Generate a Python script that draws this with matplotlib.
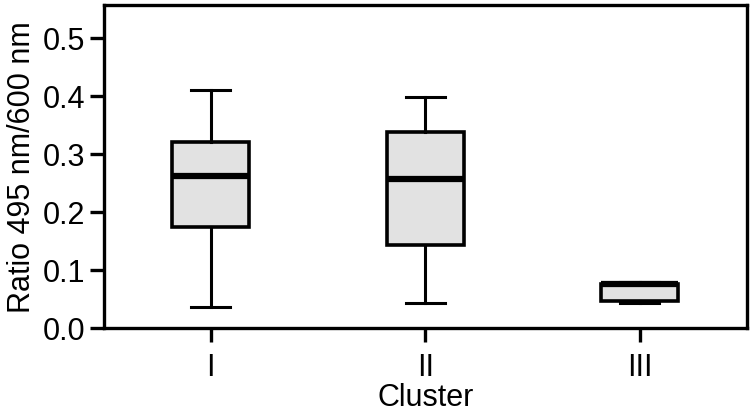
import matplotlib.pyplot as plt

plt.rcParams['font.family'] = ['Liberation Sans', 'DejaVu Sans']

# box statistics
clusters = ['I', 'II', 'III']
whisker_low = [0.036, 0.043, 0.043]
q1 = [0.174, 0.143, 0.047]
median = [0.262, 0.257, 0.077]
q3 = [0.321, 0.338, 0.077]
whisker_high = [0.410, 0.398, 0.080]

stats = []
for name, wl, a, m, b, wh in zip(clusters, whisker_low, q1, median, q3, whisker_high):
    stats.append({'label': name, 'whislo': wl, 'q1': a, 'med': m, 'q3': b,
                  'whishi': wh, 'fliers': []})

fig, ax = plt.subplots(figsize=(7.5, 4.13), dpi=100)
fig.subplots_adjust(left=0.138, right=0.996, top=0.988, bottom=0.205)

ax.bxp(stats, positions=[1, 2, 3], widths=0.36, patch_artist=True,
       showfliers=False,
       boxprops=dict(facecolor='#E2E2E2', edgecolor='black', linewidth=2.6),
       medianprops=dict(color='black', linewidth=4.5),
       whiskerprops=dict(color='black', linewidth=2.2),
       capprops=dict(color='black', linewidth=2.2),
       capwidths=0.18)

ax.set_xlim(0.5, 3.5)
ax.set_ylim(0, 0.557)
ax.set_yticks([0.0, 0.1, 0.2, 0.3, 0.4, 0.5])
ax.set_yticklabels(['0.0', '0.1', '0.2', '0.3', '0.4', '0.5'])
for s in ax.spines.values():
    s.set_linewidth(2.4)
ax.tick_params(axis='both', width=2.4, length=10, labelsize=22, direction='out')
ax.tick_params(axis='y', pad=3)
ax.tick_params(axis='x', pad=8)
ax.set_xlabel('Cluster', fontsize=22, labelpad=0)
ax.set_ylabel('Ratio 495 nm/600 nm', fontsize=22, labelpad=4)

plt.savefig('out.png', dpi=100, facecolor='white')
